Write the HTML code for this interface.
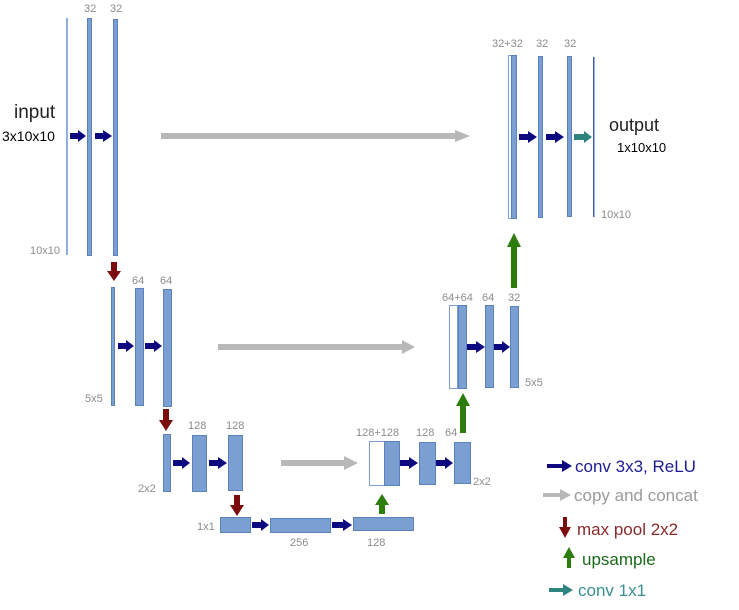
<!DOCTYPE html>
<html><head><meta charset="utf-8"><style>
html,body{margin:0;padding:0;background:#fff;}
svg{display:block;}
text{font-family:"Liberation Sans",sans-serif;}
.lb{fill:#8c8c8c;font-size:11px;}
</style></head><body>
<svg width="739" height="610" viewBox="0 0 739 610" xmlns="http://www.w3.org/2000/svg">
<defs>
<style>
.b{fill:#7a9fd0;stroke:#5a82bf;stroke-width:1;}
.w{fill:#fff;stroke:#7a9fd0;stroke-width:1;}
.n{fill:#0d0880;}
.r{fill:#7c0d0d;}
.g{fill:#2c7d0b;}
.t{fill:#2e8580;}
.gr{fill:#b8b8b8;}
</style>
</defs>
<!-- Level 1 -->
<rect x="66" y="18" width="2" height="237" fill="#8eaedb"/>
<rect class="b" x="87.5" y="18.5" width="4" height="237"/>
<rect class="b" x="113.5" y="19.5" width="4" height="236"/>
<text class="lb" x="84" y="12">32</text>
<text class="lb" x="110" y="12">32</text>
<text class="lb" x="30" y="254">10x10</text>
<text x="14" y="118" font-size="19" fill="#222">input</text>
<text x="2" y="141" font-size="14" fill="#000">3x10x10</text>
<polygon class="n" points="70,133 78,133 78,130 86,136 78,142 78,139 70,139"/>
<polygon class="n" points="95,133 103,133 103,130 112,136 103,142 103,139 95,139"/>
<polygon class="gr" points="161,133 455,133 455,130 470,136 455,142 455,139 161,139"/>
<!-- Output level -->
<rect class="w" x="508.5" y="55.5" width="4" height="163"/>
<rect class="b" x="511.5" y="55.5" width="5" height="163"/>
<rect class="b" x="538.5" y="56.5" width="4" height="161"/>
<rect class="b" x="567.5" y="56.5" width="4" height="160"/>
<rect x="593" y="57" width="1.5" height="160" fill="#3a5fa8"/>
<text class="lb" x="492" y="47">32+32</text>
<text class="lb" x="536" y="47">32</text>
<text class="lb" x="564" y="47">32</text>
<text class="lb" x="601" y="218">10x10</text>
<polygon class="n" points="519,134 528,134 528,131 537,137 528,143 528,140 519,140"/>
<polygon class="n" points="546,134 555,134 555,131 564,137 555,143 555,140 546,140"/>
<polygon class="t" points="574,134 584,134 584,131 592,137 584,143 584,140 574,140"/>
<text x="609" y="131" font-size="18" fill="#222">output</text>
<text x="617" y="152" font-size="13" fill="#000">1x10x10</text>
<polygon class="g" points="511,288 517,288 517,247 521,247 514,233 507,247 511,247"/>
<!-- Level 2 -->
<polygon class="r" points="111,262 117,262 117,271 121,271 114,281 107,271 111,271"/>
<rect class="b" x="111.5" y="287.5" width="3" height="118"/>
<rect class="b" x="135.5" y="288.5" width="8" height="117"/>
<rect class="b" x="163.5" y="289.5" width="8" height="117"/>
<text class="lb" x="132" y="284">64</text>
<text class="lb" x="160" y="284">64</text>
<text class="lb" x="85" y="402">5x5</text>
<polygon class="n" points="118,343 126,343 126,340 134,346 126,352 126,349 118,349"/>
<polygon class="n" points="145,343 154,343 154,340 162,346 154,352 154,349 145,349"/>
<polygon class="gr" points="218,344 402,344 402,340 415,347 402,354 402,350 218,350"/>
<rect class="w" x="449.5" y="305.5" width="8" height="83"/>
<rect class="b" x="458.5" y="305.5" width="8" height="83"/>
<rect class="b" x="485.5" y="305.5" width="8" height="82"/>
<rect class="b" x="510.5" y="306.5" width="8" height="81"/>
<text class="lb" x="442" y="301">64+64</text>
<text class="lb" x="482" y="301">64</text>
<text class="lb" x="508" y="301">32</text>
<text class="lb" x="525" y="386">5x5</text>
<polygon class="n" points="467,344 476,344 476,341 485,347 476,353 476,350 467,350"/>
<polygon class="n" points="494,344 502,344 502,341 510,347 502,353 502,350 494,350"/>
<polygon class="g" points="460,433 466,433 466,406 470,406 463,393 456,406 460,406"/>
<!-- Level 3 -->
<polygon class="r" points="163,409 169,409 169,420 173,420 166,431 159,420 163,420"/>
<rect class="b" x="163.5" y="434.5" width="7" height="57"/>
<rect class="b" x="192.5" y="435.5" width="14" height="56"/>
<rect class="b" x="228.5" y="435.5" width="14" height="55"/>
<text class="lb" x="188" y="429">128</text>
<text class="lb" x="226" y="429">128</text>
<text class="lb" x="138" y="492">2x2</text>
<polygon class="n" points="173,460 182,460 182,457 190,463 182,469 182,466 173,466"/>
<polygon class="n" points="209,460 218,460 218,457 227,463 218,469 218,466 209,466"/>
<polygon class="gr" points="281,460 344,460 344,456 358,463 344,470 344,466 281,466"/>
<rect class="w" x="369.5" y="441.5" width="15" height="44"/>
<rect class="b" x="384.5" y="441.5" width="15" height="44"/>
<rect class="b" x="419.5" y="442.5" width="16" height="42"/>
<rect class="b" x="454.5" y="442.5" width="16" height="41"/>
<text class="lb" x="356" y="436">128+128</text>
<text class="lb" x="416" y="436">128</text>
<text class="lb" x="445" y="436">64</text>
<text class="lb" x="473" y="485">2x2</text>
<polygon class="n" points="400,460 409,460 409,457 418,463 409,469 409,466 400,466"/>
<polygon class="n" points="436,460 445,460 445,457 453,463 445,469 445,466 436,466"/>
<polygon class="g" points="379,514 385,514 385,505 389,505 382,494 375,505 379,505"/>
<!-- Level 4 -->
<polygon class="r" points="234,495 240,495 240,505 244,505 237,516 230,505 234,505"/>
<rect class="b" x="220.5" y="517.5" width="30" height="15"/>
<rect class="b" x="270.5" y="518.5" width="60" height="14"/>
<rect class="b" x="353.5" y="517.5" width="60" height="13"/>
<text class="lb" x="197" y="530">1x1</text>
<text class="lb" x="290" y="546">256</text>
<text class="lb" x="367" y="546">128</text>
<polygon class="n" points="252,522 261,522 261,519 269,525 261,531 261,528 252,528"/>
<polygon class="n" points="332,522 343,522 343,519 352,525 343,531 343,528 332,528"/>
<!-- Legend -->
<polygon class="n" points="547,464 562,464 562,460 572,466 562,472 562,468 547,468"/>
<text x="575" y="472" font-size="17" fill="#1c1c96">conv 3x3, ReLU</text>
<polygon class="gr" points="543,493 560,493 560,489 571,495 560,501 560,497 543,497"/>
<text x="574" y="501" font-size="17" fill="#9a9a9a">copy and concat</text>
<polygon class="r" points="563,517 567,517 567,527 571,527 565,538 559,527 563,527"/>
<text x="577" y="535" font-size="17" fill="#8a2a2a">max pool 2x2</text>
<polygon class="g" points="567,568 571,568 571,558 575,558 569,547 563,558 567,558"/>
<text x="582" y="565" font-size="17" fill="#1a6a1a">upsample</text>
<polygon class="t" points="549,588 563,588 563,584 573,590 563,596 563,592 549,592"/>
<text x="578" y="596" font-size="17" fill="#3a8f92">conv 1x1</text>
</svg>
</body></html>
